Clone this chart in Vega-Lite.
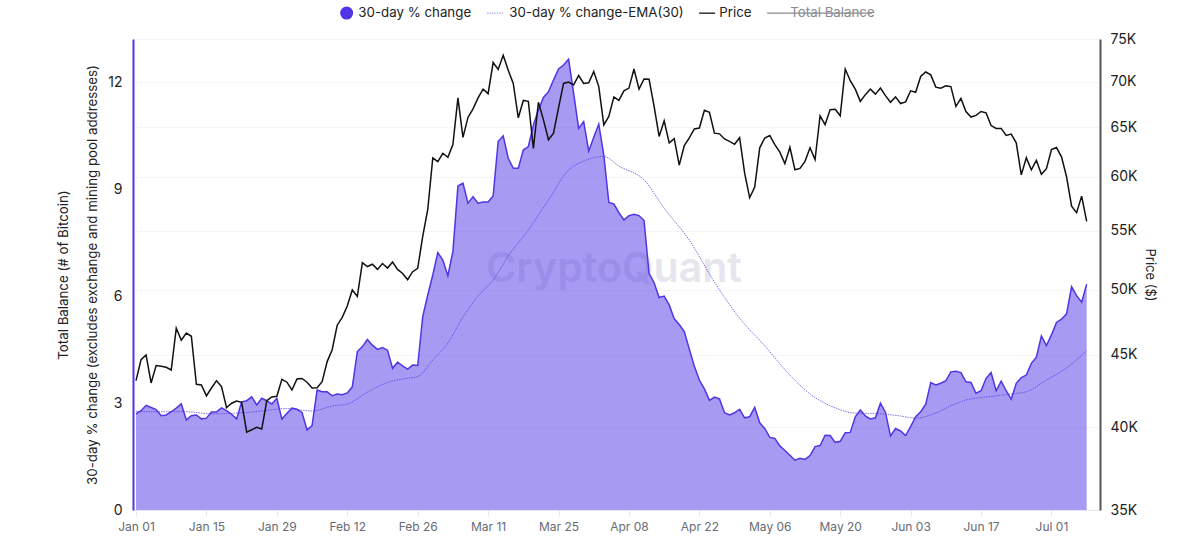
{
  "$schema": "https://vega.github.io/schema/vega-lite/v6.json",
  "autosize": {"type": "none"},
  "padding": {"left": 133, "top": 39, "right": 77, "bottom": 26},
  "width": 967,
  "height": 471,
  "background": "#ffffff",
  "config": {"view": {"stroke": null}, "font": "Inter"},
  "datasets": {
    "daily": [
      {"date":"2024-01-01","change":2.70,"price":43150},{"date":"2024-01-02","change":2.79,"price":44640},{"date":"2024-01-03","change":2.94,"price":44980},{"date":"2024-01-04","change":2.88,"price":42990},{"date":"2024-01-05","change":2.82,"price":44220},{"date":"2024-01-06","change":2.65,"price":44160},{"date":"2024-01-07","change":2.67,"price":44090},{"date":"2024-01-08","change":2.76,"price":43900},{"date":"2024-01-09","change":2.86,"price":46970},{"date":"2024-01-10","change":2.98,"price":46070},
      {"date":"2024-01-11","change":2.53,"price":46600},{"date":"2024-01-12","change":2.65,"price":46360},{"date":"2024-01-13","change":2.67,"price":42900},{"date":"2024-01-14","change":2.56,"price":42850},{"date":"2024-01-15","change":2.58,"price":42100},{"date":"2024-01-16","change":2.75,"price":42640},{"date":"2024-01-17","change":2.76,"price":43150},{"date":"2024-01-18","change":2.87,"price":42730},{"date":"2024-01-19","change":2.79,"price":41300},{"date":"2024-01-20","change":2.69,"price":41600},
      {"date":"2024-01-21","change":2.56,"price":41750},{"date":"2024-01-22","change":3.04,"price":41660},{"date":"2024-01-23","change":3.07,"price":39700},{"date":"2024-01-24","change":3.18,"price":39850},{"date":"2024-01-25","change":2.95,"price":40010},{"date":"2024-01-26","change":3.14,"price":39900},{"date":"2024-01-27","change":3.07,"price":41770},{"date":"2024-01-28","change":2.98,"price":42030},{"date":"2024-01-29","change":3.14,"price":42070},{"date":"2024-01-30","change":2.55,"price":43240},
      {"date":"2024-01-31","change":2.72,"price":43040},{"date":"2024-02-01","change":2.86,"price":42500},{"date":"2024-02-02","change":2.83,"price":43260},{"date":"2024-02-03","change":2.74,"price":43300},{"date":"2024-02-04","change":2.25,"price":43040},{"date":"2024-02-05","change":2.37,"price":42640},{"date":"2024-02-06","change":3.37,"price":42660},{"date":"2024-02-07","change":3.32,"price":43080},{"date":"2024-02-08","change":3.32,"price":44500},{"date":"2024-02-09","change":3.21,"price":45360},
      {"date":"2024-02-10","change":3.26,"price":47200},{"date":"2024-02-11","change":3.24,"price":47800},{"date":"2024-02-12","change":3.29,"price":48690},{"date":"2024-02-13","change":3.46,"price":49970},{"date":"2024-02-14","change":4.45,"price":49450},{"date":"2024-02-15","change":4.59,"price":52230},{"date":"2024-02-16","change":4.79,"price":51900},{"date":"2024-02-17","change":4.63,"price":52090},{"date":"2024-02-18","change":4.51,"price":51660},{"date":"2024-02-19","change":4.56,"price":52150},
      {"date":"2024-02-20","change":4.49,"price":51770},{"date":"2024-02-21","change":3.98,"price":52280},{"date":"2024-02-22","change":4.15,"price":51660},{"date":"2024-02-23","change":4.05,"price":51320},{"date":"2024-02-24","change":3.96,"price":50800},{"date":"2024-02-25","change":4.07,"price":51470},{"date":"2024-02-26","change":4.06,"price":51750},{"date":"2024-02-27","change":5.43,"price":54500},{"date":"2024-02-28","change":6.04,"price":56920},{"date":"2024-02-29","change":6.60,"price":61880},
      {"date":"2024-03-01","change":7.23,"price":61500},{"date":"2024-03-02","change":7.02,"price":62340},{"date":"2024-03-03","change":6.58,"price":61940},{"date":"2024-03-04","change":7.26,"price":63220},{"date":"2024-03-05","change":9.10,"price":68180},{"date":"2024-03-06","change":9.18,"price":63960},{"date":"2024-03-07","change":8.62,"price":66060},{"date":"2024-03-08","change":8.80,"price":66980},{"date":"2024-03-09","change":8.62,"price":68180},{"date":"2024-03-10","change":8.65,"price":69160},
      {"date":"2024-03-11","change":8.65,"price":68650},{"date":"2024-03-12","change":8.82,"price":72200},{"date":"2024-03-13","change":10.35,"price":71400},{"date":"2024-03-14","change":10.51,"price":73040},{"date":"2024-03-15","change":9.88,"price":71300},{"date":"2024-03-16","change":9.60,"price":69800},{"date":"2024-03-17","change":9.60,"price":66020},{"date":"2024-03-18","change":10.11,"price":67900},{"date":"2024-03-19","change":10.21,"price":67800},{"date":"2024-03-20","change":10.81,"price":62820},
      {"date":"2024-03-21","change":11.24,"price":67700},{"date":"2024-03-22","change":11.59,"price":65800},{"date":"2024-03-23","change":11.75,"price":63720},{"date":"2024-03-24","change":12.08,"price":64400},{"date":"2024-03-25","change":12.39,"price":67080},{"date":"2024-03-26","change":12.50,"price":69800},{"date":"2024-03-27","change":12.66,"price":69960},{"date":"2024-03-28","change":11.71,"price":69630},{"date":"2024-03-29","change":10.72,"price":70700},{"date":"2024-03-30","change":10.91,"price":69800},
      {"date":"2024-03-31","change":10.08,"price":69880},{"date":"2024-04-01","change":10.47,"price":71150},{"date":"2024-04-02","change":10.84,"price":69440},{"date":"2024-04-03","change":9.97,"price":65260},{"date":"2024-04-04","change":8.64,"price":66170},{"date":"2024-04-05","change":8.60,"price":68290},{"date":"2024-04-06","change":8.35,"price":67900},{"date":"2024-04-07","change":8.15,"price":68970},{"date":"2024-04-08","change":8.27,"price":69270},{"date":"2024-04-09","change":8.31,"price":71440},
      {"date":"2024-04-10","change":8.27,"price":69160},{"date":"2024-04-11","change":8.13,"price":70300},{"date":"2024-04-12","change":6.65,"price":70270},{"date":"2024-04-13","change":6.38,"price":67260},{"date":"2024-04-14","change":5.97,"price":64060},{"date":"2024-04-15","change":6.01,"price":65700},{"date":"2024-04-16","change":5.76,"price":63400},{"date":"2024-04-17","change":5.37,"price":63830},{"date":"2024-04-18","change":5.21,"price":61150},{"date":"2024-04-19","change":5.01,"price":63120},
      {"date":"2024-04-20","change":4.52,"price":63900},{"date":"2024-04-21","change":4.04,"price":64840},{"date":"2024-04-22","change":3.65,"price":64940},{"date":"2024-04-23","change":3.40,"price":66820},{"date":"2024-04-24","change":3.08,"price":66600},{"date":"2024-04-25","change":3.17,"price":64400},{"date":"2024-04-26","change":3.12,"price":64330},{"date":"2024-04-27","change":2.73,"price":63800},{"date":"2024-04-28","change":2.67,"price":63550},{"date":"2024-04-29","change":2.73,"price":63250},
      {"date":"2024-04-30","change":2.83,"price":63930},{"date":"2024-05-01","change":2.59,"price":60360},{"date":"2024-05-02","change":2.62,"price":58010},{"date":"2024-05-03","change":2.88,"price":59030},{"date":"2024-05-04","change":2.45,"price":62890},{"date":"2024-05-05","change":2.29,"price":63900},{"date":"2024-05-06","change":2.04,"price":64160},{"date":"2024-05-07","change":2.01,"price":63220},{"date":"2024-05-08","change":1.80,"price":62450},{"date":"2024-05-09","change":1.67,"price":61300},
      {"date":"2024-05-10","change":1.54,"price":62950},{"date":"2024-05-11","change":1.40,"price":60700},{"date":"2024-05-12","change":1.45,"price":60830},{"date":"2024-05-13","change":1.42,"price":61530},{"date":"2024-05-14","change":1.53,"price":62890},{"date":"2024-05-15","change":1.78,"price":61700},{"date":"2024-05-16","change":1.81,"price":66240},{"date":"2024-05-17","change":2.10,"price":65300},{"date":"2024-05-18","change":2.09,"price":66900},{"date":"2024-05-19","change":1.90,"price":66930},
      {"date":"2024-05-20","change":1.93,"price":66240},{"date":"2024-05-21","change":2.17,"price":71440},{"date":"2024-05-22","change":2.18,"price":70100},{"date":"2024-05-23","change":2.62,"price":69160},{"date":"2024-05-24","change":2.81,"price":67800},{"date":"2024-05-25","change":2.64,"price":68540},{"date":"2024-05-26","change":2.56,"price":69160},{"date":"2024-05-27","change":2.59,"price":68600},{"date":"2024-05-28","change":3.00,"price":69270},{"date":"2024-05-29","change":2.74,"price":68430},
      {"date":"2024-05-30","change":2.08,"price":67700},{"date":"2024-05-31","change":2.29,"price":68290},{"date":"2024-06-01","change":2.22,"price":67560},{"date":"2024-06-02","change":2.09,"price":67740},{"date":"2024-06-03","change":2.34,"price":68970},{"date":"2024-06-04","change":2.62,"price":68800},{"date":"2024-06-05","change":2.76,"price":70580},{"date":"2024-06-06","change":2.97,"price":71100},{"date":"2024-06-07","change":3.58,"price":70770},{"date":"2024-06-08","change":3.51,"price":69380},
      {"date":"2024-06-09","change":3.56,"price":69270},{"date":"2024-06-10","change":3.63,"price":69520},{"date":"2024-06-11","change":3.88,"price":69440},{"date":"2024-06-12","change":3.90,"price":67260},{"date":"2024-06-13","change":3.86,"price":68130},{"date":"2024-06-14","change":3.60,"price":66700},{"date":"2024-06-15","change":3.58,"price":66100},{"date":"2024-06-16","change":3.28,"price":66280},{"date":"2024-06-17","change":3.35,"price":66700},{"date":"2024-06-18","change":3.70,"price":66550},
      {"date":"2024-06-19","change":3.86,"price":65200},{"date":"2024-06-20","change":3.35,"price":64900},{"date":"2024-06-21","change":3.62,"price":64900},{"date":"2024-06-22","change":3.35,"price":64160},{"date":"2024-06-23","change":3.11,"price":64300},{"date":"2024-06-24","change":3.56,"price":63400},{"date":"2024-06-25","change":3.72,"price":60200},{"date":"2024-06-26","change":3.79,"price":61880},{"date":"2024-06-27","change":4.12,"price":60700},{"date":"2024-06-28","change":4.29,"price":61630},
      {"date":"2024-06-29","change":4.89,"price":60260},{"date":"2024-06-30","change":4.62,"price":60800},{"date":"2024-07-01","change":4.92,"price":62720},{"date":"2024-07-02","change":5.27,"price":62920},{"date":"2024-07-03","change":5.36,"price":61980},{"date":"2024-07-04","change":5.51,"price":60020},{"date":"2024-07-05","change":6.27,"price":57230},{"date":"2024-07-06","change":6.02,"price":56620},{"date":"2024-07-07","change":5.84,"price":58160},{"date":"2024-07-08","change":6.34,"price":55840}
    ],
    "ema": [
      {"date":"2024-01-01","ema":2.77},{"date":"2024-01-06","ema":2.76},{"date":"2024-01-11","ema":2.76},{"date":"2024-01-16","ema":2.70},{"date":"2024-01-21","ema":2.72},{"date":"2024-01-26","ema":2.78},{"date":"2024-01-31","ema":2.85},{"date":"2024-02-05","ema":2.78},{"date":"2024-02-09","ema":2.92},{"date":"2024-02-12","ema":2.98},{"date":"2024-02-16","ema":3.31},{"date":"2024-02-20","ema":3.58},{"date":"2024-02-23","ema":3.68},{"date":"2024-02-26","ema":3.75},{"date":"2024-02-29","ema":4.21},{"date":"2024-03-03","ema":4.69},{"date":"2024-03-06","ema":5.42},{"date":"2024-03-09","ema":6.01},{"date":"2024-03-12","ema":6.46},{"date":"2024-03-15","ema":7.13},{"date":"2024-03-19","ema":7.87},{"date":"2024-03-23","ema":8.71},{"date":"2024-03-27","ema":9.55},{"date":"2024-03-30","ema":9.80},{"date":"2024-04-03","ema":9.93},{"date":"2024-04-06","ema":9.66},{"date":"2024-04-11","ema":9.27},{"date":"2024-04-15","ema":8.48},{"date":"2024-04-20","ema":7.58},{"date":"2024-04-25","ema":6.40},{"date":"2024-04-30","ema":5.39},{"date":"2024-05-05","ema":4.61},{"date":"2024-05-10","ema":3.79},{"date":"2024-05-14","ema":3.26},{"date":"2024-05-19","ema":2.87},{"date":"2024-05-23","ema":2.72},{"date":"2024-05-27","ema":2.71},{"date":"2024-06-01","ema":2.64},{"date":"2024-06-04","ema":2.58},{"date":"2024-06-07","ema":2.67},{"date":"2024-06-12","ema":2.99},{"date":"2024-06-14","ema":3.09},{"date":"2024-06-18","ema":3.17},{"date":"2024-06-23","ema":3.26},{"date":"2024-06-26","ema":3.32},{"date":"2024-06-30","ema":3.65},{"date":"2024-07-04","ema":3.99},{"date":"2024-07-08","ema":4.47}
    ],
    "legend": [
      {"series":"30-day % change"},
      {"series":"30-day % change-EMA(30)"},
      {"series":"Price"},
      {"series":"Total Balance"}
    ],
    "watermark": [
      {"date":"2024-04-05","value":6.74,"label":"CryptoQuant"}
    ]
  },
  "encoding": {
    "x": {
      "field": "date",
      "type": "temporal",
      "scale": {
        "type": "utc",
        "domain": [
          {"year":2023,"month":12,"date":31,"hours":9,"minutes":36,"utc":true},
          {"year":2024,"month":7,"date":10,"hours":15,"minutes":36,"utc":true}
        ]
      },
      "axis": {
        "title": null,
        "labelExpr": "utcFormat(datum.value, '%b %d')",
        "grid": false,
        "values": [
          {"year":2024,"month":1,"date":1,"utc":true},{"year":2024,"month":1,"date":15,"utc":true},{"year":2024,"month":1,"date":29,"utc":true},{"year":2024,"month":2,"date":12,"utc":true},{"year":2024,"month":2,"date":26,"utc":true},{"year":2024,"month":3,"date":11,"utc":true},{"year":2024,"month":3,"date":25,"utc":true},{"year":2024,"month":4,"date":8,"utc":true},{"year":2024,"month":4,"date":22,"utc":true},{"year":2024,"month":5,"date":6,"utc":true},{"year":2024,"month":5,"date":20,"utc":true},{"year":2024,"month":6,"date":3,"utc":true},{"year":2024,"month":6,"date":17,"utc":true},{"year":2024,"month":7,"date":1,"utc":true}
        ],
        "domainColor": "#e3e7f0",
        "tickColor": "#e3e7f0",
        "tickSize": 6,
        "labelColor": "#666b75",
        "labelFontSize": 12,
        "labelPadding": 5,
        "labelOverlap": false,
        "labelFlush": false
      }
    }
  },
  "layer": [
    {
      "encoding": {
        "y": {
          "type": "quantitative",
          "scale": {"domain": [0, 13.23], "nice": false},
          "axis": {
            "title": ["Total Balance (# of Bitcoin)", "30-day % change (excludes exchange and mining pool addresses)"],
            "titleFontSize": 13.3,
            "titleFontWeight": "normal",
            "titleColor": "#222222",
            "titleLineHeight": 29,
            "titlePadding": 8,
            "values": [0, 3, 6, 9, 12],
            "grid": false,
            "ticks": false,
            "domainColor": "#4f35e6",
            "domainWidth": 2,
            "labelFontSize": 14,
            "labelColor": "#222222",
            "labelPadding": 11
          }
        }
      },
      "layer": [
        {
          "data": {"name": "watermark"},
          "mark": {"type": "text", "fontSize": 41, "fontWeight": 600, "color": "#e6e6ee", "baseline": "middle"},
          "encoding": {
            "y": {"field": "value"},
            "text": {"field": "label"}
          }
        },
        {
          "data": {"name": "daily"},
          "mark": {"type": "area", "color": "#4f35e6", "opacity": 0.5},
          "encoding": {"y": {"field": "change"}}
        },
        {
          "data": {"name": "daily"},
          "mark": {"type": "line", "color": "#4f35e6", "strokeWidth": 1.5},
          "encoding": {"y": {"field": "change"}}
        },
        {
          "data": {"name": "ema"},
          "mark": {"type": "line", "color": "#4f35e6", "strokeWidth": 0.7, "strokeDash": [1.5, 1], "interpolate": "monotone"},
          "encoding": {"y": {"field": "ema"}}
        }
      ]
    },
    {
      "data": {"name": "daily"},
      "mark": {"type": "line", "color": "#111111", "strokeWidth": 1.5},
      "encoding": {
        "y": {
          "field": "price",
          "type": "quantitative",
          "scale": {"type": "log", "domain": [35000, 75000], "nice": false},
          "axis": {
            "orient": "right",
            "title": "Price ($)",
            "titleFontSize": 13,
            "titleFontWeight": "normal",
            "titleColor": "#222222",
            "titlePadding": 5,
            "values": [35000, 40000, 45000, 50000, 55000, 60000, 65000, 70000, 75000],
            "labelExpr": "datum.value / 1000 + 'K'",
            "grid": true,
            "gridColor": "#f4f5f7",
            "ticks": false,
            "domainColor": "#555555",
            "domainWidth": 2,
            "labelFontSize": 14,
            "labelColor": "#222222",
            "labelPadding": 10
          }
        }
      }
    },
    {
      "data": {"name": "legend"},
      "mark": {"type": "point", "filled": true, "size": 0, "opacity": 1},
      "encoding": {
        "color": {
          "field": "series",
          "type": "nominal",
          "sort": null,
          "scale": {
            "domain": ["30-day % change", "30-day % change-EMA(30)", "Price", "Total Balance"],
            "range": ["#4f35e6", "#6a55e8", "#111111", "#8a8a92"]
          },
          "legend": {
            "title": null,
            "orient": "none",
            "direction": "horizontal",
            "columns": 4,
            "legendX": 207,
            "legendY": -33,
            "padding": 0,
            "symbolSize": 169,
            "symbolStrokeWidth": 0,
            "labelFontSize": 13.3,
            "labelOffset": 5,
            "columnPadding": 15,
            "labelLimit": 300,
            "labelColor": {"expr": "datum.value === 'Total Balance' ? '#8a8a92' : '#222222'"}
          }
        },
        "shape": {
          "field": "series",
          "type": "nominal",
          "sort": null,
          "scale": {
            "domain": ["30-day % change", "30-day % change-EMA(30)", "Price", "Total Balance"],
            "range": [
              "circle",
              "M-1.62,-.06h.2v.12h-.2zM-1.25,-.06h.2v.12h-.2zM-.88,-.06h.2v.12h-.2zM-.51,-.06h.2v.12h-.2zM-.14,-.06h.2v.12h-.2zM.23,-.06h.2v.12h-.2zM.6,-.06h.2v.12h-.2z",
              "M-1.31,-.1H1.15V.1H-1.31Z",
              "M-1.77,-.1H14.4V.1H-1.77Z"
            ]
          },
          "legend": {
            "title": null,
            "orient": "none",
            "direction": "horizontal",
            "columns": 4,
            "legendX": 207,
            "legendY": -33,
            "padding": 0,
            "symbolSize": 169,
            "symbolStrokeWidth": 0,
            "labelFontSize": 13.3,
            "labelOffset": 5,
            "columnPadding": 15,
            "labelLimit": 300,
            "labelColor": {"expr": "datum.value === 'Total Balance' ? '#8a8a92' : '#222222'"}
          }
        }
      }
    }
  ],
  "resolve": {"scale": {"y": "independent"}}
}
